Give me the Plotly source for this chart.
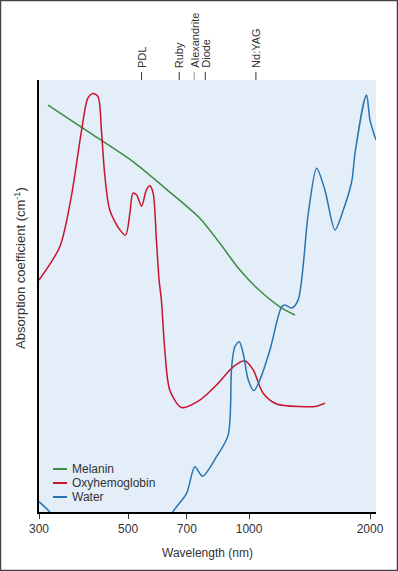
import plotly.graph_objects as go
import math

# ---- data (arbitrary absorption units, 0-100) ----
melanin_wl = [316, 401, 514, 621, 754, 846, 949, 1064, 1193, 1301]
melanin_abs = [94.2, 87.8, 81.1, 74.8, 68.0, 62.2, 56.0, 51.2, 47.5, 45.6]

oxy_wl = [300, 338, 361, 383, 397, 409, 421, 429, 437, 450, 477, 493, 505, 514, 525,
          540, 555, 566, 577, 588, 597, 605, 617, 635, 679, 754, 830, 913, 976, 1024,
          1084, 1171, 1339, 1473, 1545]
oxy_abs = [53.7, 61.4, 73.0, 88.4, 95.8, 96.9, 96.1, 88.4, 78.4, 69.9, 65.3, 64.1, 69.1,
           73.8, 73.4, 70.8, 74.5, 75.5, 73.8, 63.0, 53.7, 49.1, 37.5, 28.2, 24.2, 25.9,
           29.4, 33.6, 35.0, 32.9, 27.5, 25.0, 24.4, 24.5, 25.2]

water_wl = [300, 319, 335, 620, 647, 699, 733, 766, 830, 887, 905, 922, 945, 967, 995,
            1028, 1064, 1127, 1205, 1228, 1276, 1325, 1404, 1473, 1545, 1636, 1716,
            1801, 1835, 1943, 1962, 2000, 2070]
water_abs = [2.4, 0.0, -3.0, -4.0, 0.1, 4.3, 10.5, 8.3, 12.8, 17.8, 33.6, 38.3, 39.4,
             36.7, 30.6, 28.1, 30.6, 37.5, 47.5, 47.9, 47.2, 49.1, 69.1, 79.6, 74.5,
             65.3, 69.9, 76.5, 83.0, 95.8, 96.5, 90.7, 86.1]

series_names = ["Melanin", "Oxyhemoglobin", "Water"]

tick_vals = [300, 500, 700, 1000, 2000]
tick_text = ["300", "500", "700", "1000", "2000"]

laser_names = ["PDL", "Ruby", "Alexandrite", "Diode", "Nd:YAG"]
laser_wl = [540, 670, 730, 778, 1040]
laser_tick_colors = ["#333333", "#333333", "#999999", "#333333", "#333333"]

GREEN = "#3f8a45"
RED = "#c8142c"
BLUE = "#2874b2"
COLORS = [GREEN, RED, BLUE]
FONT = "Liberation Sans, Arial, sans-serif"
TXT = "#333333"

PW, PH = 337, 432  # plot area size in px

fig = go.Figure()
for wl, ab, nm, col in zip([melanin_wl, oxy_wl, water_wl],
                           [melanin_abs, oxy_abs, water_abs],
                           series_names, COLORS):
    fig.add_trace(go.Scatter(x=wl, y=ab, mode="lines", name=nm, showlegend=False,
                             line=dict(color=col, width=1.5, shape="spline",
                                       smoothing=0.8)))

# manual legend (compact spacing as in the reference)
for i, (nm, col) in enumerate(zip(series_names, COLORS)):
    yy = (43 - 14 * i) / PH
    fig.add_shape(type="line", xref="paper", yref="paper",
                  x0=14 / PW, x1=28 / PW, y0=yy, y1=yy,
                  line=dict(color=col, width=2))
    fig.add_annotation(xref="paper", yref="paper", x=31 / PW, y=yy, text=nm,
                       showarrow=False, xanchor="left", yanchor="middle",
                       font=dict(family=FONT, size=12, color=TXT))

# top laser markers
for name, wl, tc in zip(laser_names, laser_wl, laser_tick_colors):
    fig.add_shape(type="line", xref="x", yref="paper", x0=wl, x1=wl,
                  y0=1.0, y1=1 + 8 / PH, line=dict(color=tc, width=1))
    fig.add_annotation(x=math.log10(wl), xref="x", yref="paper", y=1 + 10 / PH,
                       text=name, textangle=-90, showarrow=False,
                       xanchor="center", yanchor="bottom",
                       font=dict(family=FONT, size=11, color=TXT))

# y title
fig.add_annotation(xref="paper", yref="paper", x=-19 / PW, y=(512 - 268) / PH,
                   text="Absorption coefficient (cm<sup>-1</sup>)", textangle=-90,
                   showarrow=False, xanchor="center", yanchor="middle",
                   font=dict(family=FONT, size=13, color=TXT))

# outer frame
fig.add_shape(type="rect", xref="paper", yref="paper",
              x0=-38.5 / PW, x1=1 + 21.5 / PW, y0=-58.5 / PH, y1=1 + 79.5 / PH,
              line=dict(color="#444444", width=1.5), fillcolor="rgba(0,0,0,0)",
              layer="above")

fig.update_layout(
    width=398, height=571,
    margin=dict(l=39, r=22, t=80, b=59),
    paper_bgcolor="white",
    plot_bgcolor="#e4eef8",
    font=dict(family=FONT, size=12, color=TXT),
    showlegend=False,
    xaxis=dict(type="log", range=[math.log10(300), math.log10(2070)],
               tickvals=tick_vals, ticktext=tick_text, showgrid=False,
               zeroline=False, showline=True, linecolor="black", linewidth=1.5,
               ticks="outside", ticklen=5, tickcolor="#333333",
               tickfont=dict(size=12, color=TXT),
               title=dict(text="Wavelength (nm)", standoff=13,
                          font=dict(size=12, color=TXT))),
    yaxis=dict(range=[0, 100], showticklabels=False, showgrid=False,
               zeroline=False, showline=True, linecolor="black", linewidth=1.5,
               ticks=""),
)

fig.write_html("out.html", post_script="document.body.style.margin='0';",
               config={"displayModeBar": False})
